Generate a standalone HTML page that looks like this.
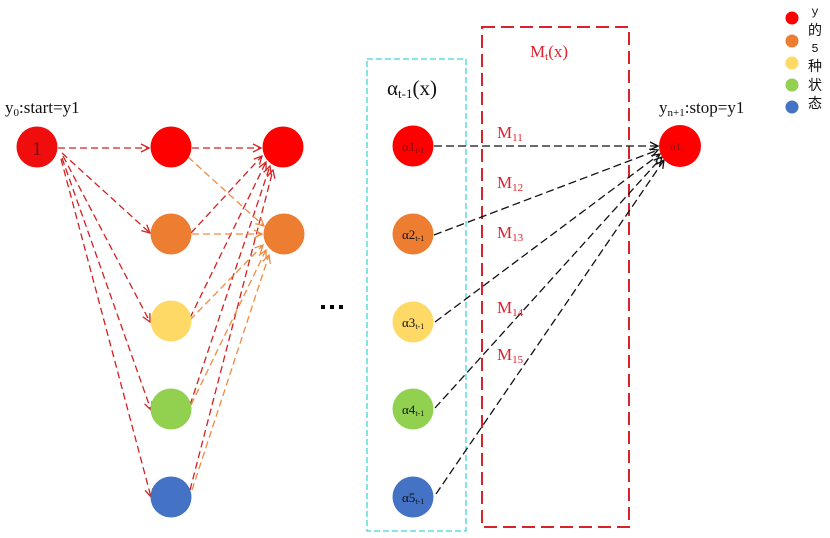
<!DOCTYPE html>
<html><head><meta charset="utf-8">
<style>
html,body{margin:0;padding:0;background:#fff;}
svg{display:block;}
text{font-family:"Liberation Serif","Noto Serif CJK SC",serif;}
</style></head>
<body>
<svg width="830" height="538" viewBox="0 0 830 538" xmlns="http://www.w3.org/2000/svg">
<defs>
<marker id="ar" markerWidth="10" markerHeight="10" refX="9" refY="5" orient="auto" markerUnits="userSpaceOnUse">
<polyline points="1,1 9,5 1,9" fill="none" stroke="#d42020" stroke-width="1.3"/>
</marker>
<marker id="ao" markerWidth="10" markerHeight="10" refX="9" refY="5" orient="auto" markerUnits="userSpaceOnUse">
<polyline points="1,1 9,5 1,9" fill="none" stroke="#f08a40" stroke-width="1.3"/>
</marker>
<marker id="ak" markerWidth="10" markerHeight="10" refX="9" refY="5" orient="auto" markerUnits="userSpaceOnUse">
<polyline points="1,1 9,5 1,9" fill="none" stroke="#111" stroke-width="1.3"/>
</marker>
</defs>

<!-- boxes -->
<rect x="367" y="59" width="99" height="472" fill="none" stroke="#3dd8dc" stroke-width="1.3" stroke-dasharray="6,3"/>
<rect x="482" y="27" width="147" height="500" fill="none" stroke="#d8232a" stroke-width="2" stroke-dasharray="13,6"/>

<!-- left connectors: start to col2 -->
<g fill="none" stroke="#d42020" stroke-width="1.3" stroke-dasharray="7,4">
<line x1="58" y1="148" x2="149" y2="148" marker-end="url(#ar)"/>
<line x1="62" y1="153" x2="150" y2="233" marker-end="url(#ar)"/>
<line x1="63" y1="156" x2="150" y2="322" marker-end="url(#ar)"/>
<line x1="62" y1="158" x2="151" y2="410" marker-end="url(#ar)"/>
<line x1="61" y1="159" x2="151" y2="497" marker-end="url(#ar)"/>
<!-- col2 to col3 red -->
<line x1="192" y1="148" x2="261" y2="148" marker-end="url(#ar)"/>
<line x1="191" y1="233" x2="262" y2="156" marker-end="url(#ar)"/>
<line x1="190" y1="318" x2="266" y2="162" marker-end="url(#ar)"/>
<line x1="190" y1="405" x2="270" y2="166" marker-end="url(#ar)"/>
<line x1="190" y1="490" x2="273" y2="170" marker-end="url(#ar)"/>
</g>
<g fill="none" stroke="#f08a40" stroke-width="1.3" stroke-dasharray="7,4">
<line x1="188" y1="157" x2="264" y2="226" marker-end="url(#ao)"/>
<line x1="192" y1="234" x2="262" y2="234" marker-end="url(#ao)"/>
<line x1="190" y1="320" x2="263" y2="245" marker-end="url(#ao)"/>
<line x1="191" y1="405" x2="266" y2="250" marker-end="url(#ao)"/>
<line x1="192" y1="490" x2="269" y2="255" marker-end="url(#ao)"/>
</g>

<!-- right connectors -->
<g fill="none" stroke="#111" stroke-width="1.3" stroke-dasharray="8,4">
<line x1="434" y1="146" x2="658" y2="146" marker-end="url(#ak)"/>
<line x1="434" y1="235" x2="658" y2="150" marker-end="url(#ak)"/>
<line x1="435" y1="322" x2="660" y2="154" marker-end="url(#ak)"/>
<line x1="435" y1="408" x2="662" y2="157" marker-end="url(#ak)"/>
<line x1="436" y1="494" x2="664" y2="160" marker-end="url(#ak)"/>
</g>

<!-- start node -->
<circle cx="37" cy="147" r="20.5" fill="#f00d0d"/>
<text x="37" y="155" font-size="20" fill="#7a1010" text-anchor="middle">1</text>
<text x="5" y="113" font-size="17" fill="#111">y<tspan font-size="11" dy="3">0</tspan><tspan dy="-3">:start=y1</tspan></text>

<!-- column 2 -->
<circle cx="171" cy="147" r="20.5" fill="#fe0000"/>
<circle cx="171" cy="234" r="20.5" fill="#ed7d31"/>
<circle cx="171" cy="321" r="20.5" fill="#ffd966"/>
<circle cx="171" cy="409" r="20.5" fill="#92d050"/>
<circle cx="171" cy="497" r="20.5" fill="#4472c4"/>
<!-- column 3 -->
<circle cx="283" cy="147" r="20.5" fill="#fe0000"/>
<circle cx="284" cy="234" r="20.5" fill="#ed7d31"/>

<!-- ellipsis -->
<rect x="321" y="305" width="4" height="4" fill="#000"/>
<rect x="330" y="305" width="4" height="4" fill="#000"/>
<rect x="339" y="305" width="4" height="4" fill="#000"/>

<!-- alpha column -->
<text x="387" y="95" font-size="21" fill="#111">α<tspan font-size="13" dy="3">t-1</tspan><tspan dy="-3">(x)</tspan></text>
<circle cx="413" cy="146" r="20.5" fill="#fe0000"/>
<circle cx="413" cy="234" r="20.5" fill="#ed7d31"/>
<circle cx="413" cy="322" r="20.5" fill="#ffd966"/>
<circle cx="413" cy="409" r="20.5" fill="#92d050"/>
<circle cx="413" cy="497" r="20.5" fill="#4472c4"/>
<g font-size="13" fill="#111">
<text x="402" y="151" fill="#7a1010">α1<tspan font-size="8" dy="2">t-1</tspan></text>
<text x="402" y="239">α2<tspan font-size="8" dy="2">t-1</tspan></text>
<text x="402" y="327">α3<tspan font-size="8" dy="2">t-1</tspan></text>
<text x="402" y="414">α4<tspan font-size="8" dy="2">t-1</tspan></text>
<text x="402" y="502">α5<tspan font-size="8" dy="2">t-1</tspan></text>
</g>

<!-- M labels -->
<g fill="#e0202a" font-size="17">
<text x="530" y="57">M<tspan font-size="11" dy="3">t</tspan><tspan dy="-3">(x)</tspan></text>
<text x="497" y="138">M<tspan font-size="11" dy="3">11</tspan></text>
<text x="497" y="188">M<tspan font-size="11" dy="3">12</tspan></text>
<text x="497" y="238">M<tspan font-size="11" dy="3">13</tspan></text>
<text x="497" y="313">M<tspan font-size="11" dy="3">14</tspan></text>
<text x="497" y="360">M<tspan font-size="11" dy="3">15</tspan></text>
</g>

<!-- end node -->
<text x="659" y="113" font-size="17" fill="#111">y<tspan font-size="11" dy="3">n+1</tspan><tspan dy="-3">:stop=y1</tspan></text>
<circle cx="680" cy="146" r="21" fill="#fe0000"/>
<text x="670" y="150" font-size="11" fill="#8a1010">α1<tspan font-size="7" dy="2">t</tspan></text>

<!-- legend -->
<circle cx="792" cy="18" r="6.5" fill="#fe0000"/>
<circle cx="792" cy="41" r="6.5" fill="#ed7d31"/>
<circle cx="792" cy="63" r="6.5" fill="#ffd966"/>
<circle cx="792" cy="85" r="6.5" fill="#92d050"/>
<circle cx="792" cy="107" r="6.5" fill="#4472c4"/>
<g font-family="'Liberation Sans','Noto Sans CJK SC',sans-serif" font-size="14" fill="#111" text-anchor="middle">
<text x="815" y="15" font-size="12" style="font-family:'Liberation Mono',monospace">y</text>
<text x="815" y="35" style="font-family:'Noto Sans CJK SC',sans-serif">的</text>
<text x="815" y="52" font-size="12" style="font-family:'Liberation Mono',monospace">5</text>
<text x="815" y="71" style="font-family:'Noto Sans CJK SC',sans-serif">种</text>
<text x="815" y="90" style="font-family:'Noto Sans CJK SC',sans-serif">状</text>
<text x="815" y="108" style="font-family:'Noto Sans CJK SC',sans-serif">态</text>
</g>
</svg>
</body></html>
